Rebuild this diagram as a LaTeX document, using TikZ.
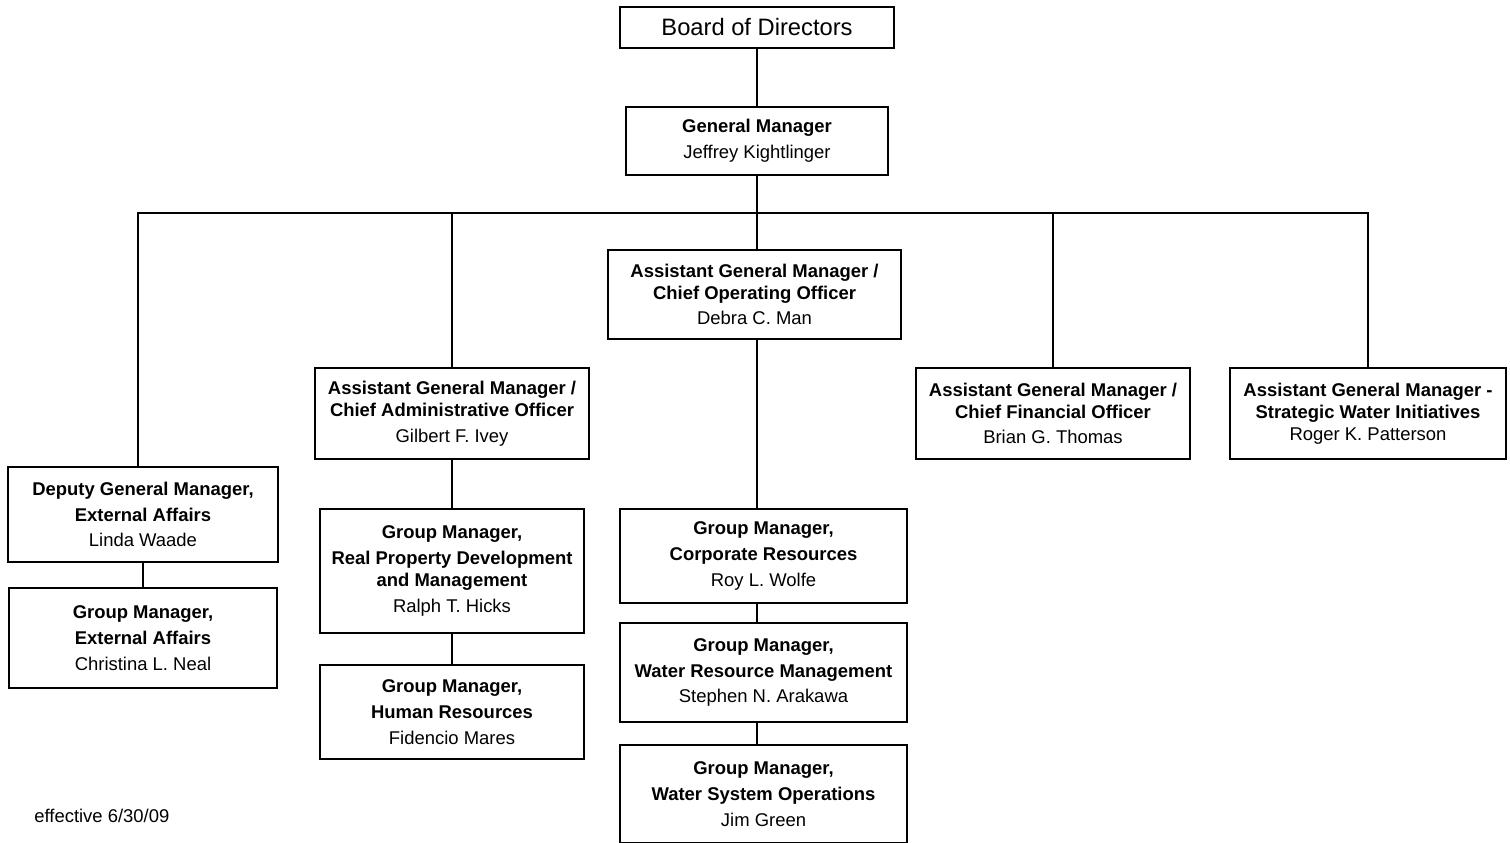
\documentclass[tikz,border=0pt]{standalone}
\usepackage{fontspec}
\setmainfont{Liberation Sans}
\usetikzlibrary{positioning, calc}

\begin{document}
\begin{tikzpicture}[x=0.02cm, y=-0.02cm, font=\fontsize{10.5}{12.5}\selectfont,
    box/.style={draw, line width=1.1pt, align=center, inner sep=0pt},
    link/.style={line width=0.75pt}]

\useasboundingbox (0,0) rectangle (1510,842);

% top of the chart
\node[box, minimum width=5.48cm, minimum height=0.82cm, font=\fontsize{13.5}{16}\selectfont] (board) at (757,27.5) {Board of Directors};
\node[box, minimum width=5.24cm, minimum height=1.36cm] (gm) at (757,141) {\textbf{General Manager}\\[2.2pt] Jeffrey Kightlinger};

% assistant general managers
\node[box, minimum width=5.86cm, minimum height=1.78cm] (coo) at (754.5,294.5) {\textbf{Assistant General Manager /}\\ \textbf{Chief Operating Officer}\\[2.2pt] Debra C. Man};
\node[box, minimum width=5.48cm, minimum height=1.82cm] (cao) at (452,413.5) {\textbf{Assistant General Manager /}\\ \textbf{Chief Administrative Officer}\\[2.2pt] Gilbert F. Ivey};
\node[box, minimum width=5.48cm, minimum height=1.82cm] (cfo) at (1053,413.5) {\textbf{Assistant General Manager /}\\ \textbf{Chief Financial Officer}\\[2.2pt] Brian G. Thomas};
\node[box, minimum width=5.52cm, minimum height=1.82cm] (swi) at (1368,413.5) {\textbf{Assistant General Manager -}\\ \textbf{Strategic Water Initiatives}\\ Roger K. Patterson};

% external affairs
\node[box, minimum width=5.40cm, minimum height=1.90cm] (dgm) at (143,514.5) {\textbf{Deputy General Manager,}\\[2.2pt] \textbf{External Affairs}\\[2.2pt] Linda Waade};
\node[box, minimum width=5.36cm, minimum height=2.00cm] (gm-ea) at (143,638) {\textbf{Group Manager,}\\[2.2pt] \textbf{External Affairs}\\[2.2pt] Christina L. Neal};

% administrative groups
\node[box, minimum width=5.28cm, minimum height=2.48cm] (gm-rp) at (452,571) {\textbf{Group Manager,}\\[2.2pt] \textbf{Real Property Development}\\ \textbf{and Management}\\[2.2pt] Ralph T. Hicks};
\node[box, minimum width=5.28cm, minimum height=1.88cm] (gm-hr) at (452,712) {\textbf{Group Manager,}\\[2.2pt] \textbf{Human Resources}\\[2.2pt] Fidencio Mares};

% operating groups
\node[box, minimum width=5.74cm, minimum height=1.88cm] (gm-cr) at (763.5,556) {\textbf{Group Manager,}\\[2.2pt] \textbf{Corporate Resources}\\[2.2pt] Roy L. Wolfe};
\node[box, minimum width=5.74cm, minimum height=1.98cm] (gm-wrm) at (763.5,672.5) {\textbf{Group Manager,}\\[2.2pt] \textbf{Water Resource Management}\\[2.2pt] Stephen N. Arakawa};
\node[box, minimum width=5.74cm, minimum height=1.96cm] (gm-wso) at (763.5,794) {\textbf{Group Manager,}\\[2.2pt] \textbf{Water System Operations}\\[2.2pt] Jim Green};

\node[anchor=west, inner sep=0pt, font=\fontsize{10.5}{12}\selectfont] (date) at (34,816) {effective 6/30/09};

% connectors
\coordinate (bus) at (757,213);
\draw[link] (board) -- (gm);
\draw[link] (gm.south) -- (bus);
\draw[link] (bus) -- (bus |- coo.north);
\draw[link] (bus) -| ([xshift=-0.1cm]dgm.north);
\draw[link] (bus) -| (cao.north);
\draw[link] (bus) -| (cfo.north);
\draw[link] (bus) -| (swi.north);

\draw[link] (dgm) -- (gm-ea);
\draw[link] (cao) -- (gm-rp);
\draw[link] (gm-rp) -- (gm-hr);
\draw[link] (coo.south -| bus) -- (gm-cr.north -| bus);
\draw[link] (gm-cr.south -| bus) -- (gm-wrm.north -| bus);
\draw[link] (gm-wrm.south -| bus) -- (gm-wso.north -| bus);

\end{tikzpicture}
\end{document}
